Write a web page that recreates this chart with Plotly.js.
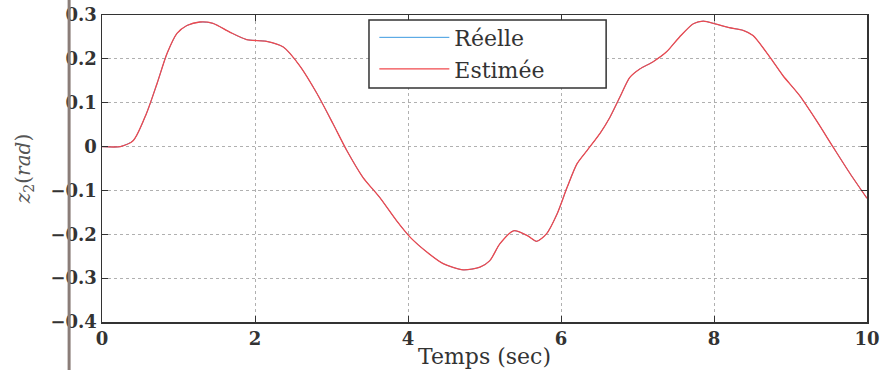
<!DOCTYPE html>
<html>
<head>
<meta charset="utf-8">
<script src="https://cdn.plot.ly/plotly-3.0.1.min.js"></script>
<style>html,body{margin:0;padding:0;background:#fff;}#chart{width:883px;height:370px;}</style>
</head>
<body>
<div id="chart"></div>
<script>
const timeSec = [0, 0.24, 0.41, 0.58, 0.72, 0.85, 0.98, 1.11, 1.28, 1.45, 1.67, 1.89, 2.15, 2.37, 2.59, 2.81, 3.02, 3.2, 3.41, 3.63, 3.85, 4.03, 4.25, 4.46, 4.72, 4.94, 5.07, 5.2, 5.38, 5.56, 5.68, 5.81, 5.95, 6.08, 6.21, 6.34, 6.51, 6.64, 6.77, 6.9, 7.03, 7.2, 7.38, 7.55, 7.73, 7.86, 8.03, 8.2, 8.38, 8.51, 8.73, 8.9, 9.12, 9.34, 9.56, 9.78, 10];
const z2Estimee = [0, 0, 0.014, 0.075, 0.144, 0.212, 0.258, 0.276, 0.284, 0.281, 0.261, 0.244, 0.24, 0.227, 0.183, 0.121, 0.052, -0.009, -0.07, -0.116, -0.169, -0.207, -0.241, -0.267, -0.281, -0.275, -0.26, -0.222, -0.192, -0.203, -0.216, -0.199, -0.153, -0.093, -0.039, -0.009, 0.03, 0.067, 0.113, 0.158, 0.177, 0.193, 0.216, 0.25, 0.28, 0.286, 0.279, 0.271, 0.265, 0.253, 0.204, 0.162, 0.116, 0.059, -0.002, -0.062, -0.118];
const z2Reelle = [0, 0, 0.014, 0.075, 0.144, 0.212, 0.258, 0.276, 0.284, 0.281, 0.261, 0.244, 0.24, 0.227, 0.183, 0.121, 0.052, -0.009, -0.07, -0.116, -0.169, -0.207, -0.241, -0.267, -0.281, -0.275, -0.26, -0.222, -0.192, -0.203, -0.216, -0.199, -0.153, -0.093, -0.039, -0.009, 0.03, 0.067, 0.113, 0.158, 0.177, 0.193, 0.216, 0.25, 0.28, 0.286, 0.279, 0.271, 0.265, 0.253, 0.204, 0.162, 0.116, 0.059, -0.002, -0.062, -0.118];
const seriesNames = ["Réelle", "Estimée"];
const xTickVals = [0, 2, 4, 6, 8, 10];
const xTickText = ["0", "2", "4", "6", "8", "10"];
const yTickVals = [-0.4, -0.3, -0.2, -0.1, 0, 0.1, 0.2, 0.3];
const yTickText = ["\u22120.4", "\u22120.3", "\u22120.2", "\u22120.1", "0", "0.1", "0.2", "0.3"];

const serif = "DejaVu Serif";
const traces = [
  {x: timeSec, y: z2Reelle, name: seriesNames[0], mode: "lines", line: {color: "#3d9be0", width: 1, shape: "spline", smoothing: 0.7}},
  {x: timeSec, y: z2Estimee, name: seriesNames[1], mode: "lines", line: {color: "#f0484c", width: 1.3, shape: "spline", smoothing: 0.7}}
];
const axBase = {
  showline: true, linecolor: "#333", linewidth: 1.5, mirror: "ticks",
  ticks: "inside", ticklen: 6, tickcolor: "#333",
  showgrid: true, gridcolor: "#b0b0b0", griddash: "dot", gridwidth: 1,
  zeroline: false, tickfont: {family: serif, size: 18, color: "#333", weight: "bold"}
};
const layout = {
  width: 883, height: 370,
  margin: {l: 102, r: 16, t: 15, b: 48},
  paper_bgcolor: "#fff", plot_bgcolor: "#fff",
  xaxis: Object.assign({}, axBase, {range: [0, 10], tickvals: xTickVals, ticktext: xTickText,
    title: {text: "Temps (sec)", font: {family: serif, size: 22, color: "#333"}, standoff: 0}}),
  yaxis: Object.assign({}, axBase, {range: [-0.4, 0.3], tickvals: yTickVals, ticktext: yTickText,
    title: {text: "<i>z</i><sub>2</sub>(<i>rad</i>)", font: {family: serif, size: 20, color: "#555"}, standoff: 14}}),
  legend: {x: 0.356, y: 0.995, xanchor: "left", yanchor: "top", bgcolor: "rgba(0,0,0,0)",
    borderwidth: 0, font: {family: serif, size: 22, color: "#333"},
    itemwidth: 70, tracegroupgap: 0},
  shapes: [
    {type: "rect", xref: "paper", yref: "paper", x0: 0.349, x1: 0.659, y0: 0.762, y1: 0.984,
     fillcolor: "#fff", line: {color: "#333", width: 1.5}, layer: "above"},
    {type: "line", xref: "paper", yref: "paper", x0: -0.043, x1: -0.043, y0: -0.2, y1: 1.1, line: {color: "#8a7d78", width: 3}}
  ],
  showlegend: true
};
Plotly.newPlot("chart", traces, layout, {displayModeBar: false, staticPlot: true});
</script>
</body>
</html>
